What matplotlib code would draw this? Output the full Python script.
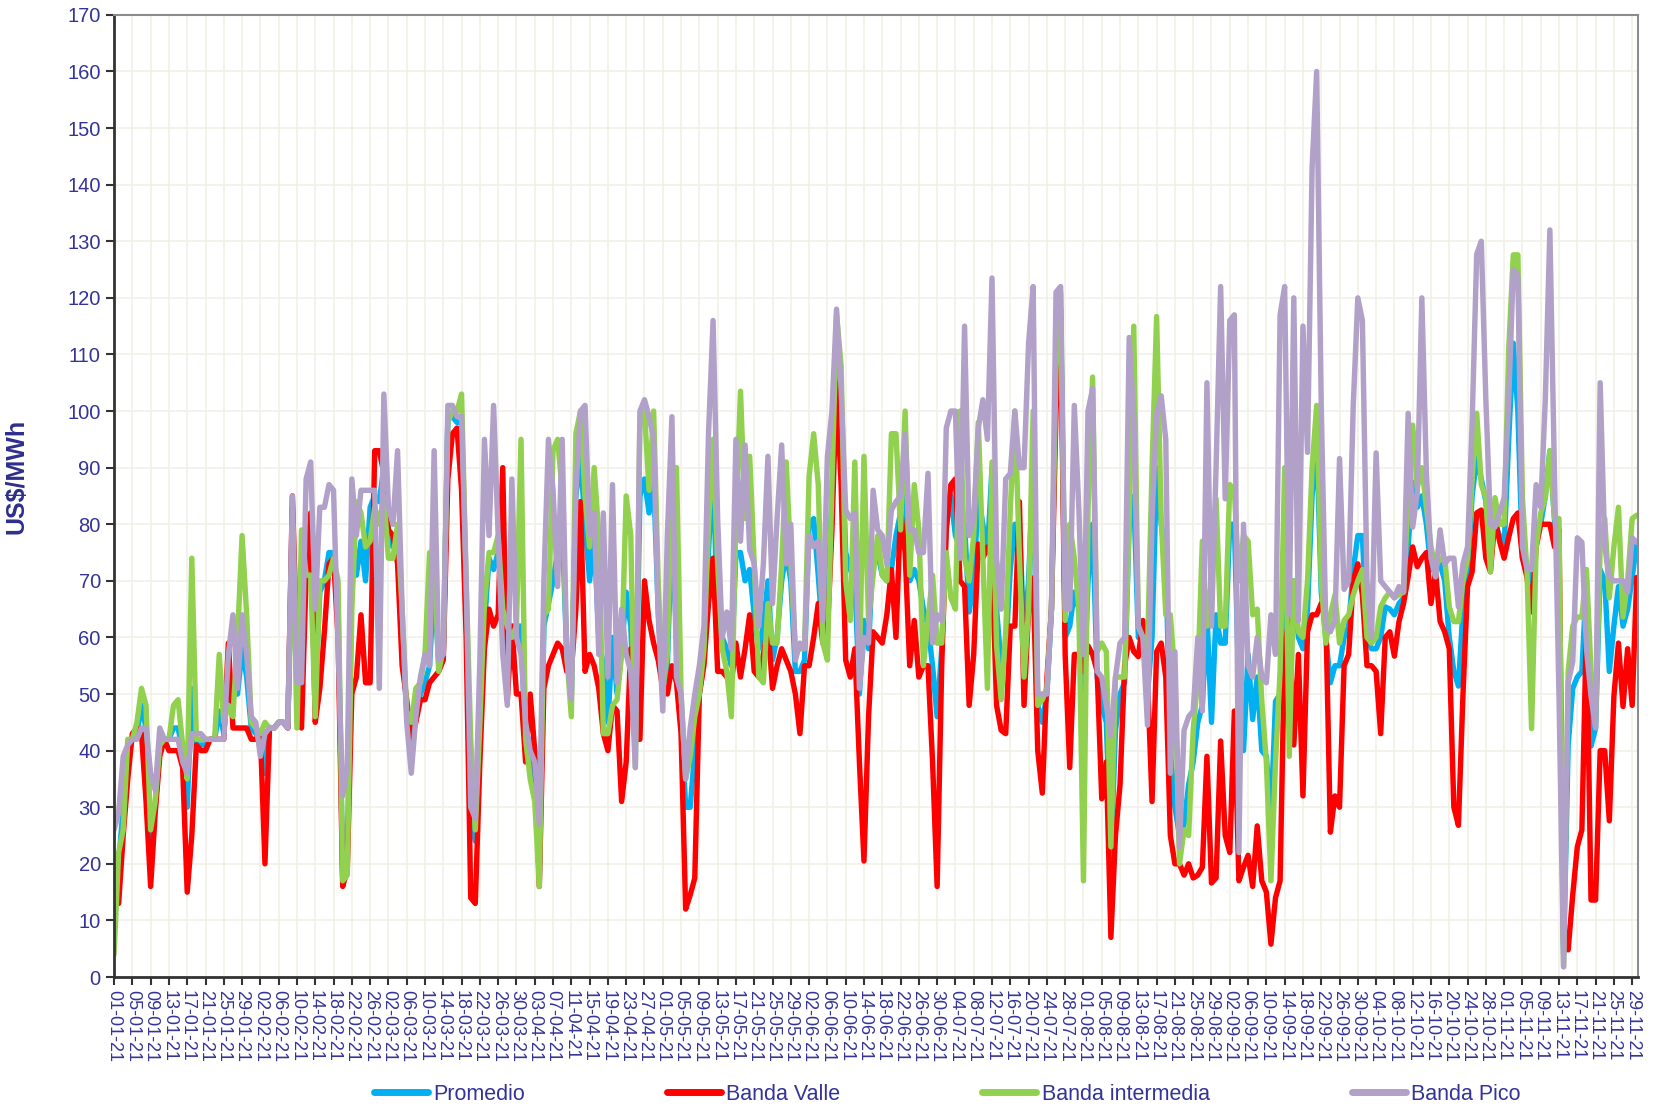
import numpy as np
import pandas as pd
import matplotlib
matplotlib.use('Agg')
import matplotlib.pyplot as plt

plt.rcParams['font.family'] = ['Liberation Sans', 'DejaVu Sans']

start_date = '2021-01-01'

# Banda Pico (US$/MWh), one value per day
pico = [
    26, 29, 39, 41, 42, 42, 44, 44, 36, 33,
    44, 42, 42, 42, 42, 38, 36, 43, 43, 43,
    42, 42, 42, 42, 42, 57, 64, 51, 64, 57,
    46, 45, 39, 43, 44, 44, 45, 45, 44, 85,
    52, 52, 88, 91, 65, 83, 83, 87, 86, 58,
    32, 37, 88, 78, 86, 86, 86, 86, 51, 103,
    83, 80, 93, 65, 45, 36, 46, 53, 57, 55,
    93, 56, 57, 101, 101, 99, 99, 70, 30, 28,
    56, 95, 78, 101, 78, 57, 48, 88, 60, 57,
    45, 40, 38, 27, 70, 95, 86, 69, 95, 57,
    49, 86, 100, 101, 78, 82, 57, 82, 53, 87,
    52, 65, 57, 54, 37, 100, 102, 99, 95, 64,
    47, 78, 99, 53, 50, 35, 44, 50, 55, 62,
    96, 116, 81, 60, 64.5, 58, 95, 77, 94, 75.5,
    73, 62, 73, 92, 66, 81, 94, 73, 80, 56,
    59, 58, 78, 76, 77, 63, 92, 100, 118, 104,
    82.5, 81, 82, 51, 60, 59, 86, 79, 78, 73,
    82.5, 84, 85, 96, 79, 79, 75, 75, 89, 59,
    64, 63, 97, 100, 100, 74, 115, 78, 81, 97,
    102, 95, 123.5, 74, 65, 88, 89, 100, 90, 90,
    112, 122, 50, 50, 50, 65, 121, 122, 65, 65,
    101, 82.5, 57, 100, 104, 54, 53, 48, 42.6, 53,
    59, 60, 113, 99, 62, 60, 44.5, 81, 99.4, 102.7,
    95, 36, 57.5, 23, 43.6, 46, 47, 60, 47, 105,
    62, 90, 122, 84.5, 116, 117, 22, 80, 55, 53,
    60, 53, 52, 64, 57, 117, 122, 64, 120, 63,
    115, 92.7, 143, 160, 101, 62, 61, 63, 91.6, 68.5,
    70, 101, 120, 116, 70, 60, 92.6, 70, 69, 68,
    67, 69, 68, 99.6, 79.5, 85.6, 120, 89, 74, 70.7,
    79, 73, 74, 74, 65.4, 73, 76, 98, 127.7, 130,
    102, 80, 79.5, 82, 84.7, 102, 125, 124, 76, 72,
    72, 87, 83, 102, 132, 89, 49.6, 1.8, 52, 55.7,
    77.6, 76.8, 58, 49.6, 44, 105, 76, 70.6, 70, 70,
    70, 68, 77.6, 76.8,
]

# Banda Valle
valle = [
    14, 13, 25, 35, 43, 44, 43, 31, 16, 29,
    39, 42, 40, 40, 40, 37, 15, 25, 41, 40,
    40, 42, 42, 42, 42, 59, 44, 44, 44, 44,
    42, 42, 43, 20, 44, 44, 45, 45, 44, 85,
    58, 44, 71, 82, 45, 51, 61, 73, 74, 60,
    16, 19, 50, 53, 64, 52, 52, 93, 93, 89,
    79, 78, 73, 55, 49, 42, 45, 49, 49, 52,
    53, 54, 56, 88, 96, 97, 86, 60, 14, 13,
    38, 58, 65, 62, 64, 90, 49, 62, 50, 50,
    38, 50, 40, 16, 51, 55, 57, 59, 58, 54,
    54, 65, 84, 54, 57, 55, 51, 43, 40, 48,
    47, 31, 38, 58, 42, 42, 70, 63, 59, 56,
    51, 50, 55, 52, 43, 12, 14.5, 17.5, 50, 55,
    66, 74, 54, 54, 53, 52, 59, 53, 58, 64,
    54, 53, 57, 62, 51, 55, 58, 56, 54, 50,
    43, 55, 55, 60, 66, 59, 61, 79, 105, 87,
    56, 53, 58, 38, 20.5, 46, 61, 60, 59, 64,
    72, 60, 82.5, 75, 55, 63, 53, 55, 55, 38,
    16, 55, 79, 87, 88, 70, 69, 48, 57, 76.5,
    74, 76, 74, 48, 43.6, 43, 62, 62, 84, 48,
    65, 70.5, 40, 32.5, 52.6, 65, 100, 117, 57, 37,
    57, 57, 54, 58.5, 57, 54, 31.5, 38, 7, 25,
    34, 55, 60, 57.5, 56.6, 63, 53, 31, 57.5, 59,
    53, 25, 20, 20, 18, 20, 17.5, 18, 19.4, 39,
    16.6, 17.5, 41.7, 25, 22, 47, 17, 19.4, 21.5, 16,
    26.7, 17, 15, 5.8, 14, 17, 59, 63, 41, 57,
    32, 61, 64, 64, 66, 64, 25.6, 32, 30, 55,
    57, 70, 73, 67.5, 55, 55, 54, 43, 60, 61,
    56.7, 62.8, 66, 70.7, 76, 72.5, 74, 75, 66, 71.6,
    62.8, 61, 58, 30, 26.8, 50, 69, 71.6, 82, 82.5,
    74, 71.6, 81, 77, 74, 77.7, 81, 82, 74, 70.6,
    64.5, 76, 80, 80, 80, 76, 79, 6, 4.8, 14.5,
    23, 26, 62.7, 13.6, 13.6, 40, 40, 27.6, 49.6, 59,
    47.8, 58, 48, 70.6,
]

# Banda intermedia
intermedia = [
    4, 22, 26, 42, 42, 45, 51, 48, 26, 31,
    41, 42, 42, 48, 49, 41, 35, 74, 42, 42,
    42, 42, 42, 57, 45, 48, 46, 60, 78, 64,
    45, 44, 43, 45, 44, 44, 45, 45, 45, 80,
    44, 79, 71, 71, 46, 70, 70, 71, 74, 70,
    17, 18, 65, 84, 82, 76, 77, 83, 80, 85,
    74, 74, 80, 65, 47, 45, 51, 52, 57, 75,
    74, 54, 58, 98, 100, 100, 103, 70, 42, 26,
    45, 66, 75, 75, 78, 65, 62, 60, 62, 95,
    42, 35, 31, 16, 64, 65, 93, 95, 86, 57,
    46, 96, 100, 85, 76, 90, 78, 43, 43, 48,
    49, 57, 85, 78, 37, 99, 100, 86, 100, 70,
    51, 57, 90, 90, 50, 35, 39, 46, 50, 58,
    80, 95, 73, 58, 54, 46, 81, 103.5, 81, 92,
    73, 53, 52, 66, 59, 59, 73, 91, 73, 58,
    58, 58, 88.5, 96, 87, 59, 56, 87, 117, 108,
    70, 63, 91, 55, 92, 63, 71, 78, 71, 70,
    96, 96, 79, 100, 71, 87, 79, 55, 63, 71,
    59, 59, 75, 67, 65, 100, 74, 70, 78, 98,
    74, 51, 91, 58.5, 49, 61, 82.5, 100, 74, 53,
    65, 100, 48, 49, 51, 65, 108, 121, 63, 80,
    74, 65, 17, 82.5, 106, 57.5, 59, 57.5, 23, 53,
    53, 53, 81, 115, 62, 60, 57.5, 90, 116.7, 81,
    64, 64, 53, 20, 26, 25, 43.6, 53, 77, 62,
    70, 84.5, 62, 62, 87, 86, 70, 78, 77, 64,
    65, 48.7, 38, 17, 38, 54, 90, 39, 70, 61,
    60, 70, 90, 101, 70, 59, 64, 67.5, 59, 63,
    64, 67.5, 70, 72, 60, 59, 60, 65.4, 67, 68,
    67, 67.6, 68, 84.7, 97.5, 86.5, 90, 83, 76, 72.5,
    74, 74, 65.4, 62.8, 62.8, 70, 74, 88, 99.6, 87,
    84.7, 71.6, 84.7, 80, 80, 111, 127.6, 127.6, 84.6, 71.5,
    43.9, 76, 82, 84.6, 93, 81, 81, 1.8, 54, 62,
    63.6, 63.6, 72, 54, 45, 76, 81, 67, 76, 83,
    63.6, 70, 81, 81.6,
]

# Promedio
promedio = [
    12, 20, 30, 40, 42, 43, 48, 44, 24, 30,
    41, 42, 42, 44, 44, 40, 30, 51, 41, 41,
    41, 42, 42, 47, 43, 54, 50, 50, 58, 53,
    44, 43, 42, 36, 44, 44, 45, 45, 44, 83,
    52, 55, 75, 80, 50, 68, 70, 75, 75, 65,
    18, 20, 72, 71, 77, 70, 83, 85, 84, 90,
    77, 76, 76, 60, 47, 43, 47, 50, 52, 55,
    70, 55, 57, 99, 99, 98, 98, 65, 28, 24,
    45, 62, 74, 72, 75, 70, 55, 62, 62, 62,
    40, 42, 35, 18, 62, 66, 70, 75, 80, 57,
    50, 85, 92, 80, 70, 78, 60, 55, 45, 60,
    50, 58, 68, 62, 42, 85, 88, 82, 88, 65,
    51, 55, 80, 60, 47, 30, 30, 40, 50, 56,
    75, 92, 60, 60, 58, 55, 75, 75, 70, 72,
    64, 58, 62, 70, 56, 60, 70, 75, 70, 54,
    54, 56, 80, 81, 71, 60, 65, 85, 110, 98,
    75, 72, 70, 50, 63, 58, 76, 75, 71, 70,
    72, 78, 82, 86, 70, 72, 70, 65, 62, 55,
    46, 58, 80, 85, 78, 76, 80, 64.5, 70, 85,
    80, 75, 90, 65, 55, 58, 72, 80, 80, 60,
    70, 90, 48, 45, 50, 65, 108, 118, 60, 62,
    68, 65, 48, 70, 80, 53, 48, 45, 21, 43.6,
    50, 52, 80, 85, 60, 60, 50, 60, 90, 80,
    75, 40, 30, 25, 27, 34, 38, 45, 48, 64,
    45, 64, 59, 59, 80, 80, 50, 40, 57, 45.5,
    53, 40, 39, 28, 48.7, 50, 70, 62, 70, 60,
    58, 65, 85, 95, 68, 60, 52, 55, 55, 60,
    62, 72, 78, 78, 60, 58, 58, 60, 65.4, 65,
    64, 66, 67, 76, 87.4, 83, 85, 80, 72, 72,
    73, 70, 60, 54, 51.4, 65, 72, 85, 91.7, 88,
    84, 75, 80, 78, 76, 95, 112, 100, 74, 72,
    70, 80, 80, 85, 93, 81, 70, 4, 41, 51,
    53, 54, 70, 40.8, 44, 72, 70, 54, 62, 69,
    62, 65, 70.6, 76.8,
]

series_names = ['Promedio', 'Banda Valle', 'Banda intermedia', 'Banda Pico']
series_colors = ['#00B0F0', '#FF0000', '#92D050', '#B1A0C7']

n = len(pico)
assert len(valle) == n and len(intermedia) == n and len(promedio) == n

dates = pd.date_range(start_date, periods=n, freq='D')
x = np.arange(n)
text_color = '#333399'

fig = plt.figure(figsize=(16.53, 11.11), dpi=100)
ax = fig.add_axes([0.069, 0.1206, 0.922, 0.866])

for vals, name, col in zip([promedio, valle, intermedia, pico], series_names, series_colors):
    ax.plot(x, vals, color=col, lw=3.9, label=name,
            solid_joinstyle='round', solid_capstyle='round')

ax.set_xlim(0, n - 0.7)
ax.set_ylim(0, 170)
ax.set_yticks(np.arange(0, 171, 10))

tick_pos = x[::4]
ax.set_xticks(tick_pos)
ax.set_xticklabels(dates[::4].strftime('%d-%m-%y'), rotation=-90,
                   ha='center', va='top', fontsize=13, color=text_color)
ax.tick_params(axis='y', labelsize=14.5, labelcolor=text_color, direction='out',
               length=6, width=1.5, color='#333333')
ax.tick_params(axis='x', direction='out', length=6, width=1.5, color='#333333', pad=3)

ax.grid(True, color='#F0F0E6', lw=1.1)
ax.set_axisbelow(True)

for side in ['left', 'bottom']:
    ax.spines[side].set_color('#333333')
    ax.spines[side].set_linewidth(2)
for side in ['top', 'right']:
    ax.spines[side].set_color('#8C8C8C')
    ax.spines[side].set_linewidth(1.5)

ax.set_ylabel('US$/MWh', fontsize=18, fontweight='bold', color='#2E2E8C')
ax.yaxis.set_label_coords(-0.056, 0.52)

leg = fig.legend(loc='center', bbox_to_anchor=(0.573, 0.0153), ncol=4, frameon=False,
                 fontsize=15.5, handlelength=2.5, handletextpad=0.25, columnspacing=6.6)
for t in leg.get_texts():
    t.set_color(text_color)
for h in leg.legend_handles:
    h.set_linewidth(5)

fig.savefig('out.png', dpi=100)
